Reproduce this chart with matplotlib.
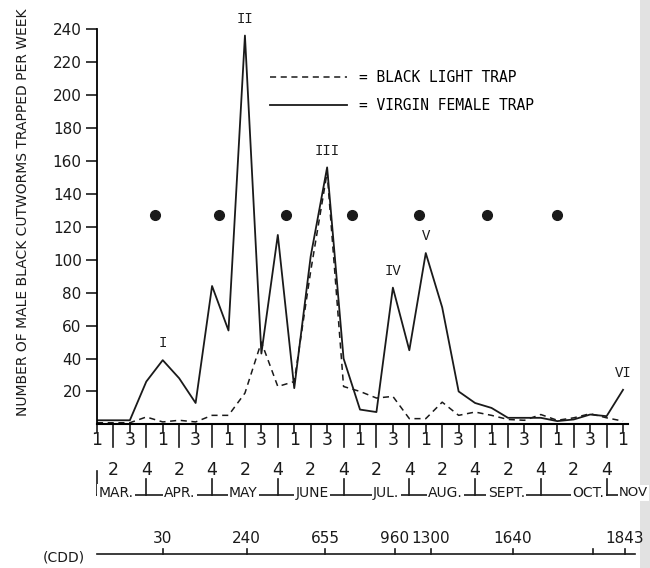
import numpy as np
import matplotlib
matplotlib.use('Agg')
from matplotlib import pyplot as plt
from matplotlib.patches import Rectangle

# weekly catches, 1st week of March through 1st week of November
week_num = [1, 2, 3, 4] * 8 + [1]
months = ['MAR.', 'APR.', 'MAY', 'JUNE', 'JUL.', 'AUG.', 'SEPT.', 'OCT.', 'NOV']
virgin_female = [2.5, 2.5, 2.5, 26, 39, 28, 13, 84, 57, 236, 43, 115, 22, 102, 156, 40,
                 9, 7.5, 83, 45, 104, 71, 20, 13, 10, 4, 4, 4, 2, 3, 6, 5, 21]
black_light = [1, 1, 1, 4.5, 1.5, 2.5, 1.5, 5.5, 5.5, 19, 50, 23, 26, 93, 153, 23,
               20, 16, 17, 3.5, 3.5, 13.5, 5.5, 7.5, 5.5, 3, 2.5, 6, 2.5, 4, 6.5, 4, 2]

# generation peaks (roman numerals) and the week they occur
peaks = ['I', 'II', 'III', 'IV', 'V', 'VI']
peak_week = [4, 9, 14, 18, 20, 32]

# filled dots across the chart
dot_week = [3.5, 7.4, 11.5, 15.5, 19.6, 23.7, 28.0]
dot_val = 127

# cumulative degree days
cdd = ['30', '240', '655', '960', '1300', '1640', '', '1843']
cdd_week = [4.0, 9.1, 13.9, 18.1, 20.3, 25.3, 30.2, 32.1]

weeks = np.arange(len(week_num))

fig = plt.figure(figsize=(6.5, 5.68), dpi=100)
ax = fig.add_axes([0.1492, 0.2528, 0.8169, 0.6962])
ink = '#1a1a1a'

ax.plot(weeks, black_light, color=ink, lw=1.1, ls=(0, (4, 3)), label='= BLACK LIGHT TRAP')
ax.plot(weeks, virgin_female, color=ink, lw=1.3, label='= VIRGIN FEMALE TRAP')
ax.plot(dot_week, [dot_val] * len(dot_week), 'o', color=ink, ms=7)

for lab, w in zip(peaks, peak_week):
    ax.annotate(lab, (w, virgin_female[w]), xytext=(0, 7), textcoords='offset points',
                ha='center', va='bottom', fontsize=10, family='Liberation Mono',
                color=ink, annotation_clip=False)

ax.set_xlim(0, 32.3)
ax.set_ylim(0, 240)
for s in ['top', 'right']:
    ax.spines[s].set_visible(False)
ax.spines['left'].set_linewidth(1.3)
ax.spines['bottom'].set_linewidth(1.5)
ax.set_yticks(range(20, 241, 20))
ax.set_xticks([])
ax.tick_params(axis='y', length=8, width=1.2, pad=3, labelsize=11, colors=ink)

# week ticks and labels under the x axis
for i, w in zip(weeks, week_num):
    if w % 2:
        ax.plot([i, i], [0, -4.5], color=ink, lw=1.2, clip_on=False)
        ax.text(i, -9.5, str(w), ha='center', va='center', fontsize=12.5, color=ink)
    else:
        ax.plot([i, i], [0, -14], color=ink, lw=1.2, clip_on=False)
        ax.text(i, -27.5, str(w), ha='center', va='center', fontsize=12.5, color=ink)
        if w == 4:
            ax.plot([i, i], [-33, -43], color=ink, lw=1.2, clip_on=False)

# month brackets
ax.plot([0, 0], [-28, -43], color=ink, lw=1.2, clip_on=False)
ax.plot([0, 33], [-43, -43], color=ink, lw=1.2, clip_on=False)
month_x = [1.15, 5.05, 8.9, 13.1, 17.6, 21.2, 24.9, 29.9, 31.75]
for m, x in zip(months, month_x):
    ax.text(x, -41.5, m, ha='left' if m == 'NOV' else 'center', va='center',
            fontsize=10 if m != 'NOV' else 9.5, color=ink,
            bbox=dict(boxstyle='square,pad=0.1', fc='white', ec='none'))

# cumulative degree day scale
ax.plot([0, 32.7], [-78.8, -78.8], color=ink, lw=1.2, clip_on=False)
for lab, x in zip(cdd, cdd_week):
    ax.plot([x, x], [-78.8, -75.5], color=ink, lw=1.2, clip_on=False)
    ax.text(x, -69, lab, ha='center', va='center', fontsize=11, color=ink)
ax.text(-2.0, -80.5, '(CDD)', ha='center', va='center', fontsize=10, color=ink)

ax.legend(loc='center left', bbox_to_anchor=(0.326, 0.842), frameon=False,
          borderaxespad=0, borderpad=0, handlelength=5.3, handletextpad=0.8,
          labelspacing=0.85, prop={'family': 'DejaVu Sans Mono', 'size': 10.5})

fig.text(23 / 650, 1 - 212 / 568, 'NUMBER OF MALE BLACK CUTWORMS TRAPPED PER WEEK',
         rotation=90, ha='center', va='center', fontsize=10, color=ink)

# shadow of the scanned page edge
fig.patches.append(Rectangle((640 / 650, 0), 10 / 650, 1, transform=fig.transFigure,
                             fc='#e2e2e2', ec='none', zorder=-1))

fig.savefig('out.png', dpi=100)
